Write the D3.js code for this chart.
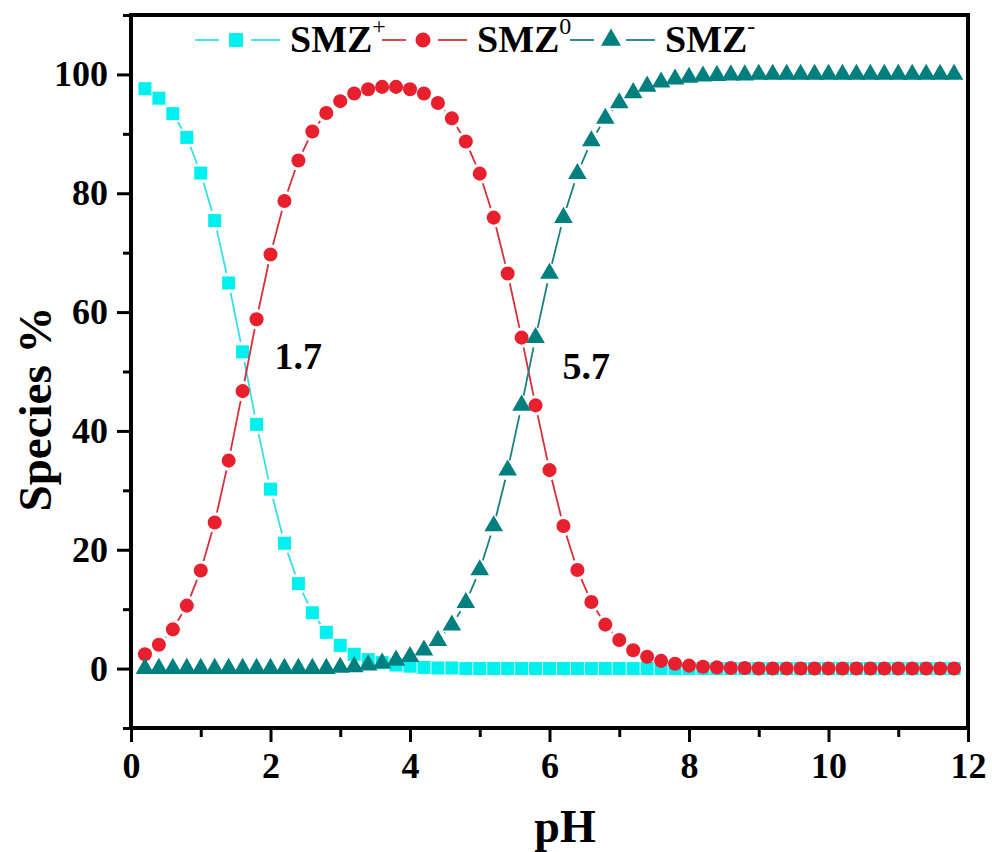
<!DOCTYPE html>
<html>
<head>
<meta charset="utf-8">
<script src="https://cdn.jsdelivr.net/npm/d3@7"></script>
<style>
  body { margin: 0; background: #fff; }
  text { font-family: "Liberation Serif", "Times New Roman", serif; font-weight: bold; }
</style>
</head>
<body>
<div id="chart"></div>
<script>
//////////////////////////////////////////////////////////////////////////////
// data

const pH = [0.2, 0.4, 0.6, 0.8, 1.0, 1.2, 1.4, 1.6, 1.8, 2.0,
  2.2, 2.4, 2.6, 2.8, 3.0, 3.2, 3.4, 3.6, 3.8, 4.0,
  4.2, 4.4, 4.6, 4.8, 5.0, 5.2, 5.4, 5.6, 5.8, 6.0,
  6.2, 6.4, 6.6, 6.8, 7.0, 7.2, 7.4, 7.6, 7.8, 8.0,
  8.2, 8.4, 8.6, 8.8, 9.0, 9.2, 9.4, 9.6, 9.8, 10.0,
  10.2, 10.4, 10.6, 10.8, 11.0, 11.2, 11.4, 11.6, 11.8];

const smzPlus = [97.6, 96.0, 93.4, 89.4, 83.4, 75.4, 64.9, 53.3, 41.1, 30.2,
  21.1, 14.3, 9.4, 6.1, 3.9, 2.4, 1.5, 1.0, 0.6, 0.4,
  0.2, 0.1, 0.1, 0, 0, 0, 0, 0, 0, 0,
  0, 0, 0, 0, 0, 0, 0, 0, 0, 0,
  0, 0, 0, 0, 0, 0, 0, 0, 0, 0,
  0, 0, 0, 0, 0, 0, 0, 0, 0];

const smzZero = [2.4, 4.0, 6.6, 10.6, 16.5, 24.6, 35.0, 46.7, 58.8, 69.7,
  78.7, 85.5, 90.4, 93.5, 95.5, 96.8, 97.5, 97.9, 97.9, 97.5,
  96.8, 95.2, 92.6, 88.7, 83.3, 75.9, 66.5, 55.7, 44.3, 33.4,
  24.0, 16.6, 11.2, 7.4, 4.8, 3.1, 2.0, 1.3, 0.8, 0.5,
  0.3, 0.2, 0.1, 0.1, 0, 0, 0, 0, 0, 0,
  0, 0, 0, 0, 0, 0, 0, 0, 0];

const smzMinus = [0, 0, 0, 0, 0, 0, 0, 0, 0, 0,
  0, 0, 0, 0, 0.2, 0.3, 0.6, 0.9, 1.4, 2.0,
  3.1, 4.7, 7.3, 11.1, 16.6, 24.0, 33.4, 44.3, 55.7, 66.5,
  75.9, 83.3, 88.8, 92.6, 95.2, 96.9, 98.0, 98.7, 99.2, 99.5,
  99.7, 99.8, 99.9, 99.9, 100, 100, 100, 100, 100, 100,
  100, 100, 100, 100, 100, 100, 100, 100, 100];

const seriesNames = ["SMZ", "SMZ", "SMZ"];
const seriesSup = ["+", "0", "-"];
const pKaLabels = ["1.7", "5.7"];
const pKaValues = [1.7, 5.7];

const xTicks = [0, 2, 4, 6, 8, 10, 12];
const yTicks = [0, 20, 40, 60, 80, 100];

//////////////////////////////////////////////////////////////////////////////
// layout

const width = 992;
const height = 852;
const plotLeft = 131, plotRight = 968, plotTop = 15, plotBottom = 728;

const x = d3.scaleLinear().domain([0, 12]).range([plotLeft, plotRight]);
const y = d3.scaleLinear().domain([-10, 110]).range([plotBottom, plotTop]);

const svg = d3.select("#chart").append("svg")
    .attr("width", width)
    .attr("height", height);

svg.append("rect")
    .attr("width", width).attr("height", height).attr("fill", "#fff");

const series = [
  { values: smzPlus, color: "#00f0f0", line: "#33e0ea", shape: d3.symbolSquare, size: 170 },
  { values: smzZero, color: "#e8202e", line: "#d8303a", shape: d3.symbolCircle, size: 155 },
  { values: smzMinus, color: "#007f7f", line: "#1a8080", shape: d3.symbolTriangle, size: 150 }
];

//////////////////////////////////////////////////////////////////////////////
// axes

const axisFont = 36;

const gx = svg.append("g")
    .attr("transform", `translate(0,${plotBottom})`)
    .call(d3.axisBottom(x).tickValues(xTicks).tickSize(14).tickPadding(10).tickFormat(d3.format("d")));
gx.append("g")
    .call(d3.axisBottom(x).tickValues(d3.range(1, 12, 2)).tickSize(9).tickFormat(""));

const gy = svg.append("g")
    .attr("transform", `translate(${plotLeft},0)`)
    .call(d3.axisLeft(y).tickValues(yTicks).tickSize(14).tickPadding(9).tickFormat(d3.format("d")));
gy.append("g")
    .call(d3.axisLeft(y).tickValues([-10, 10, 30, 50, 70, 90, 110]).tickSize(8).tickFormat(""));

svg.selectAll(".domain").remove();
svg.selectAll(".tick line").attr("stroke", "#000").attr("stroke-width", 3);
svg.selectAll(".tick text")
    .attr("fill", "#000")
    .style("font-size", axisFont + "px")
    .style("font-family", "'Liberation Serif', 'Times New Roman', serif")
    .style("font-weight", "bold");
gx.selectAll(".tick text").attr("dy", "0.72em");

//////////////////////////////////////////////////////////////////////////////
// series: line segments with a gap around each symbol, then the symbols

const gap = 10;

series.forEach(s => {
  const pts = pH.map((p, i) => [x(p), y(s.values[i])]);
  const segs = [];
  for (let i = 1; i < pts.length; i++) {
    const [x0, y0] = pts[i - 1], [x1, y1] = pts[i];
    const len = Math.hypot(x1 - x0, y1 - y0);
    if (len <= 2 * gap) continue;
    const ux = (x1 - x0) / len, uy = (y1 - y0) / len;
    segs.push([x0 + ux * gap, y0 + uy * gap, x1 - ux * gap, y1 - uy * gap]);
  }
  const g = svg.append("g");
  g.selectAll("line").data(segs).join("line")
      .attr("x1", d => d[0]).attr("y1", d => d[1])
      .attr("x2", d => d[2]).attr("y2", d => d[3])
      .attr("stroke", s.line)
      .attr("stroke-width", 1.8);
  g.selectAll("path").data(pts).join("path")
      .attr("transform", d => `translate(${d[0]},${d[1]})`)
      .attr("d", d3.symbol().type(s.shape).size(s.size))
      .attr("fill", s.color);
});

//////////////////////////////////////////////////////////////////////////////
// frame

svg.append("rect")
    .attr("x", plotLeft).attr("y", plotTop)
    .attr("width", plotRight - plotLeft).attr("height", plotBottom - plotTop)
    .attr("fill", "none")
    .attr("stroke", "#000")
    .attr("stroke-width", 4);

//////////////////////////////////////////////////////////////////////////////
// pKa annotations

const annotY = [50.4, 48.7];
const annotDx = [25, 34];
svg.selectAll("text.pka").data(pKaLabels).join("text")
    .attr("class", "pka")
    .attr("x", (d, i) => x(pKaValues[i]) + annotDx[i])
    .attr("y", (d, i) => y(annotY[i]))
    .style("font-size", "38px")
    .text(d => d);

//////////////////////////////////////////////////////////////////////////////
// legend

const legendStart = [195, 382, 570];
const legendY = 40;

series.forEach((s, i) => {
  const g = svg.append("g").attr("transform", `translate(${legendStart[i]},${legendY})`);
  g.append("line").attr("x1", 0).attr("x2", 24).attr("stroke", s.line).attr("stroke-width", 1.8);
  g.append("line").attr("x1", 56).attr("x2", 85).attr("stroke", s.line).attr("stroke-width", 1.8);
  g.append("path")
      .attr("transform", "translate(41,0)")
      .attr("d", d3.symbol().type(s.shape).size(s.size * 1.15))
      .attr("fill", s.color);
  const t = g.append("text")
      .attr("x", 95)
      .attr("y", 12)
      .style("font-size", "38px")
      .text(seriesNames[i]);
  t.append("tspan")
      .attr("dy", -18)
      .style("font-size", "24px")
      .style("font-weight", "normal")
      .text(seriesSup[i]);
});

//////////////////////////////////////////////////////////////////////////////
// axis titles

svg.append("text")
    .attr("x", 565)
    .attr("y", 842)
    .attr("text-anchor", "middle")
    .style("font-size", "46px")
    .text("pH");

svg.append("text")
    .attr("transform", "translate(51,409) rotate(-90)")
    .attr("text-anchor", "middle")
    .style("font-size", "47px")
    .text("Species %");
</script>
</body>
</html>
